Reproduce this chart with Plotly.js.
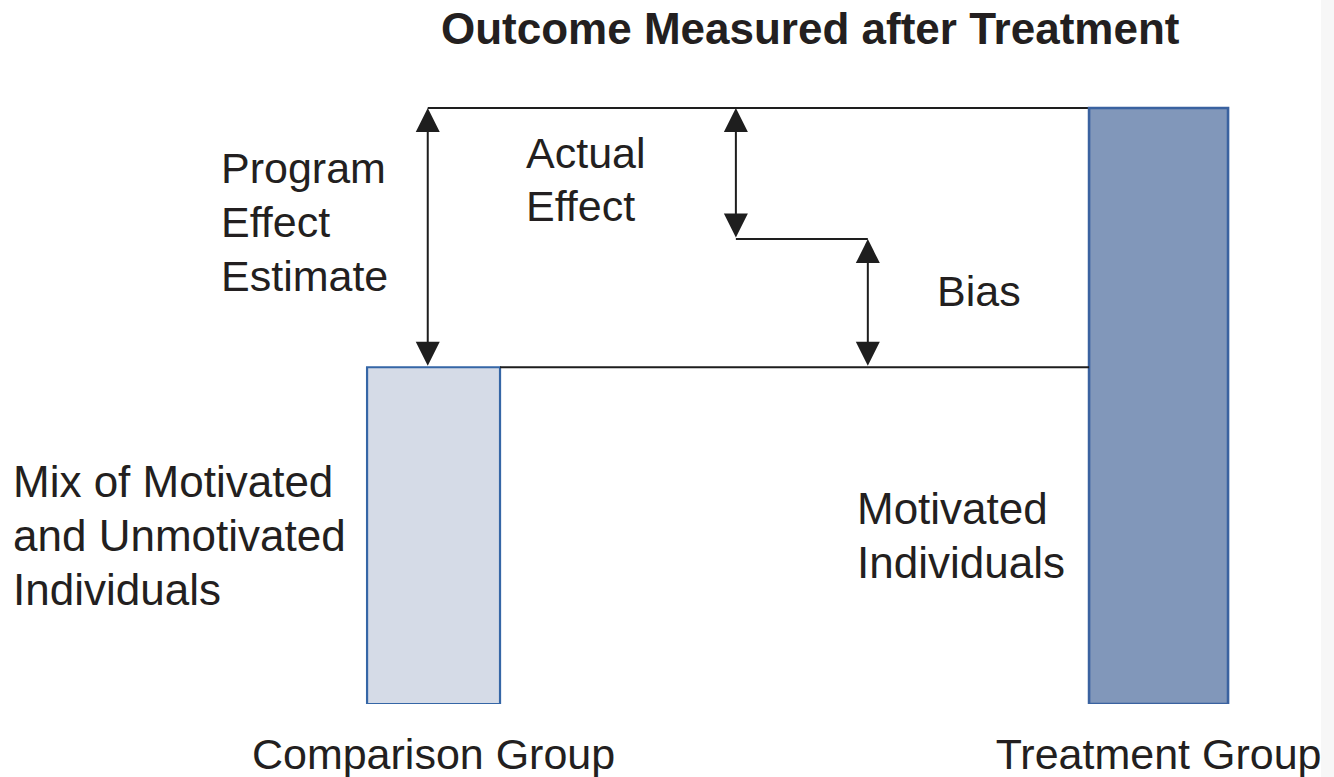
<!DOCTYPE html>
<html>
<head>
<meta charset="utf-8">
<script src="https://cdn.plot.ly/plotly-3.0.1.min.js"></script>
<style>html,body{margin:0;padding:0;background:#fff;}#chart{width:1334px;height:777px;}</style>
</head>
<body>
<div id="chart"></div>
<script>
// ---- data ----
var groups = ['Comparison Group', 'Treatment Group'];
var groupPos = [0, 1];
var outcomes = [56.5, 100];          // outcome measured after treatment
var counterfactual = [78];           // treatment group outcome without the program
var barColors = ['#d5dbe7', '#8197ba'];
var barEdges = ['#3566a6', '#3a62a0'];
var W = 1334, H = 777, B = 73, PH = H - B;
function px(x){return x / W;}
function py(y){return 1 - y / PH;}

var font = 'Liberation Sans, Arial, Helvetica, sans-serif';
var txtColor = '#231f20';

var trace = {
  type: 'bar',
  x: groupPos,
  y: outcomes,
  width: [0.1834, 0.1917],
  marker: {color: barColors, line: {color: barEdges, width: [2.2, 2.6]}},
  hoverinfo: 'skip'
};

var xComp = groupPos[0], xTreat = groupPos[1];
var compRight = xComp + 0.1834 / 2;
var treatLeft = xTreat - 0.1917 / 2;
var xEst = xComp - 0.008, xAct = 0.417, xBias = 0.599;

var lineStyle = {color: '#1e1e1e', width: 2};
var shapes = [
  {type: 'line', xref: 'x', yref: 'y', x0: xEst, x1: treatLeft + 0.04, y0: outcomes[1], y1: outcomes[1], line: lineStyle, layer: 'below'},
  {type: 'line', xref: 'x', yref: 'y', x0: compRight, x1: treatLeft, y0: outcomes[0], y1: outcomes[0], line: lineStyle},
  {type: 'line', xref: 'x', yref: 'y', x0: xAct, x1: xBias, y0: counterfactual[0], y1: counterfactual[0], line: lineStyle},
  {type: 'rect', xref: 'paper', yref: 'paper', x0: px(1321), x1: 1, y0: -B / PH, y1: 1, fillcolor: '#f7f7f7', line: {width: 0}, layer: 'below'}
];

function dblArrow(x, yTop, yBot) {
  return {
    xref: 'x', yref: 'y', axref: 'x', ayref: 'y',
    x: x, y: yTop, ax: x, ay: yBot, text: '',
    showarrow: true, arrowside: 'end+start',
    arrowhead: 2, startarrowhead: 2,
    arrowsize: 2.4, startarrowsize: 2.4,
    arrowwidth: 2, arrowcolor: '#1e1e1e',
    standoff: 0, startstandoff: 0
  };
}

function label(text, x, y, size) {
  return {
    xref: 'paper', yref: 'paper', x: px(x - 3), y: py(y),
    xanchor: 'left', yanchor: 'middle', showarrow: false,
    text: text,
    font: {family: font, size: size, color: txtColor}
  };
}

var annotations = [
  dblArrow(xEst, outcomes[1], outcomes[0]),
  dblArrow(xAct, outcomes[1], counterfactual[0]),
  dblArrow(xBias, counterfactual[0], outcomes[0]),
  {xref: 'paper', yref: 'paper', x: px(810), y: py(29), xanchor: 'center', yanchor: 'middle',
   showarrow: false, text: '<b>Outcome Measured after Treatment</b>',
   font: {family: font, size: 44, color: txtColor}},
  label('Program', 222, 168, 43),
  label('Effect', 222, 222, 43),
  label('Estimate', 222, 276, 43),
  label('Actual', 527, 153, 43),
  label('Effect', 527, 206, 43),
  label('Bias', 938, 291, 43),
  label('Mix of Motivated', 14, 481, 44),
  label('and Unmotivated', 14, 535, 44),
  label('Individuals', 14, 589, 44),
  label('Motivated', 858, 508, 44),
  label('Individuals', 858, 562, 44)
];

var layout = {
  width: W, height: H,
  margin: {l: 0, r: 0, t: 0, b: B, pad: 0},
  paper_bgcolor: '#ffffff', plot_bgcolor: 'rgba(0,0,0,0)',
  showlegend: false,
  xaxis: {
    range: [-0.598, 1.242], showgrid: false, zeroline: false, showline: false,
    tickmode: 'array', tickvals: groupPos, ticktext: groups, ticks: '',
    ticklabelstandoff: 21,
    tickfont: {family: font, size: 43, color: txtColor}, fixedrange: true
  },
  yaxis: {
    range: [0, 118.12], showgrid: false, zeroline: false, showline: false,
    showticklabels: false, ticks: '', fixedrange: true
  },
  shapes: shapes,
  annotations: annotations
};

Plotly.newPlot('chart', [trace], layout, {staticPlot: true, displayModeBar: false});
</script>
</body>
</html>
